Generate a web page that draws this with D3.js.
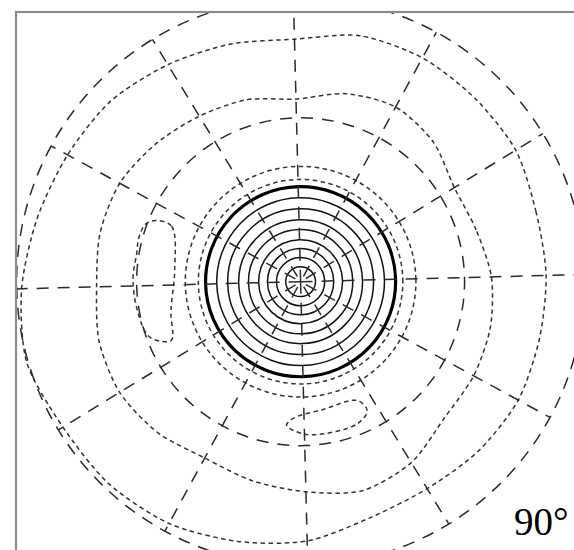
<!DOCTYPE html>
<html>
<head>
<meta charset="utf-8">
<script src="https://cdn.jsdelivr.net/npm/d3@7"></script>
<style>
  html, body { margin: 0; padding: 0; background: #fff; }
  svg { display: block; }
</style>
</head>
<body>
<svg id="chart" width="574" height="550"></svg>
<script>
// Polar angles (deg from the pole) of the dashed grid circles
const gridTheta = [60, 90];
// Azimuths (deg) of the dashed radial grid lines
const gridAzimuth = d3.range(0, 360, 30);
// Solid contour levels of the main lobe, given as polar angle (deg)
const solidLevels = [6.0, 9.7, 13.3, 16.8, 20.8, 24.6, 28.8, 32.9];
// Heavy contour bounding the main lobe
const boldLevel = 37.0;
// Dotted contours just outside the main lobe
const dottedLevels = [39.6, 44.2];

// Irregular dotted contours: polar angle sampled every 15 deg of azimuth
const contourAzimuth = d3.range(0, 360, 15);
const contourMid = [67.8, 65.6, 64.8, 68.3, 70.0, 68.5, 65.5, 67.5, 68.7, 70.3, 71.9, 72.0,
                    71.4, 73.0, 73.5, 72.4, 70.5, 71.6, 73.0, 75.0, 73.5, 69.8, 69.5, 69.0];
const contourOuter = [81.7, 81.7, 83.2, 83.4, 83.8, 83.4, 81.0, 82.2, 83.7, 85.4, 86.1, 87.3,
                      89.0, 90.3, 88.9, 88.9, 88.2, 86.5, 84.8, 81.8, 81.0, 81.7, 82.2, 81.7];

// Small closed side lobes: azimuth (deg) and polar angle (deg) of their outline
const lobeLeftAzimuth = [155.7, 155.3, 173.3, 191.4, 202.9, 201.8, 198.1, 189.1, 177.7, 169.0, 163.1, 158.1];
const lobeLeftTheta   = [58.0, 52.6, 48.0, 50.2, 53.0, 56.1, 59.3, 60.5, 61.1, 60.7, 61.1, 60.4];
const lobeLowAzimuth  = [263.0, 269.8, 277.2, 290.4, 295.9, 294.0, 278.6, 265.6];
const lobeLowTheta    = [53.9, 56.4, 56.9, 56.6, 54.1, 49.7, 49.1, 51.4];

const cornerLabel = "90°";

const W = 574, H = 550;
const cx = 300.6, cy = 281.7;
const tilt = -1.45;
const frameX = 16, frameY = 12;

const svg = d3.select("#chart");

// Stereographic radial scale: radius proportional to tan(theta/2)
const stereo = d3.scaleLinear().domain([0, 1]).range([0, 284]);
const r = th => stereo(Math.tan(th * Math.PI / 360));
const ang = az => (90 - az) * Math.PI / 180;   // azimuth (CCW from +x) -> d3 radial angle

svg.append("defs").append("clipPath").attr("id", "plotArea")
  .append("rect").attr("x", frameX).attr("y", frameY)
  .attr("width", W - frameX + 40).attr("height", H - frameY + 40);

const plot = svg.append("g").attr("clip-path", "url(#plotArea)")
  .append("g").attr("transform", `translate(${cx},${cy}) rotate(${tilt})`);

const closedRadial = d3.lineRadial().curve(d3.curveCardinalClosed.tension(0.2));
const closedLine = d3.line().curve(d3.curveCatmullRomClosed.alpha(0.5));

const dotted = sel => sel.attr("fill", "none").attr("stroke", "#333")
  .attr("stroke-width", 1.5).attr("stroke-dasharray", "4.5,3.5");
const longDash = sel => sel.attr("fill", "none").attr("stroke", "#2a2a2a")
  .attr("stroke-width", 1.5).attr("stroke-dasharray", "12,9");

// Irregular dotted contours
[contourMid, contourOuter].forEach(levels => {
  const pts = contourAzimuth.map((az, i) => [ang(az), r(levels[i])]);
  plot.append("path").attr("d", closedRadial(pts)).call(dotted);
});

// Side lobes
function lobe(azs, ths) {
  const pts = azs.map((az, i) => {
    const rr = r(ths[i]), a = az * Math.PI / 180;
    return [rr * Math.cos(a), -rr * Math.sin(a)];
  });
  plot.append("path").attr("d", closedLine(pts)).call(dotted);
}
lobe(lobeLeftAzimuth, lobeLeftTheta);
lobe(lobeLowAzimuth, lobeLowTheta);

// Dotted circles around the main lobe
plot.selectAll("circle.dot").data(dottedLevels).join("circle")
  .attr("class", "dot").attr("r", d => r(d)).call(dotted);

// Solid contours of the main lobe
plot.selectAll("circle.solid").data(solidLevels).join("circle")
  .attr("class", "solid").attr("r", d => r(d))
  .attr("fill", "none").attr("stroke", "#111").attr("stroke-width", 1.5);

plot.append("circle").attr("r", r(boldLevel))
  .attr("fill", "none").attr("stroke", "#000").attr("stroke-width", 3.2);

// Polar grid: circles and radial lines
plot.selectAll("circle.grid").data(gridTheta).join("circle")
  .attr("class", "grid").attr("r", d => r(d)).call(longDash);

const rMax = r(d3.max(gridTheta));
plot.selectAll("line.spoke").data(gridAzimuth).join("line")
  .attr("class", "spoke")
  .attr("x1", 0).attr("y1", 0)
  .attr("x2", d => rMax * Math.cos(d * Math.PI / 180))
  .attr("y2", d => -rMax * Math.sin(d * Math.PI / 180))
  .call(longDash)
  .attr("stroke-dashoffset", d => (d % 90 === 0 ? 0 : 15));

// Frame (top and left edges lie inside the view)
svg.append("rect").attr("x", frameX).attr("y", frameY)
  .attr("width", W - frameX + 20).attr("height", H - frameY + 20)
  .attr("fill", "none").attr("stroke", "#8c8c8c").attr("stroke-width", 2.2);

svg.append("text").attr("x", 514).attr("y", 535)
  .attr("font-family", "'Liberation Serif', 'Times New Roman', serif")
  .attr("font-size", 39).attr("fill", "#000")
  .text(cornerLabel);
</script>
</body>
</html>
